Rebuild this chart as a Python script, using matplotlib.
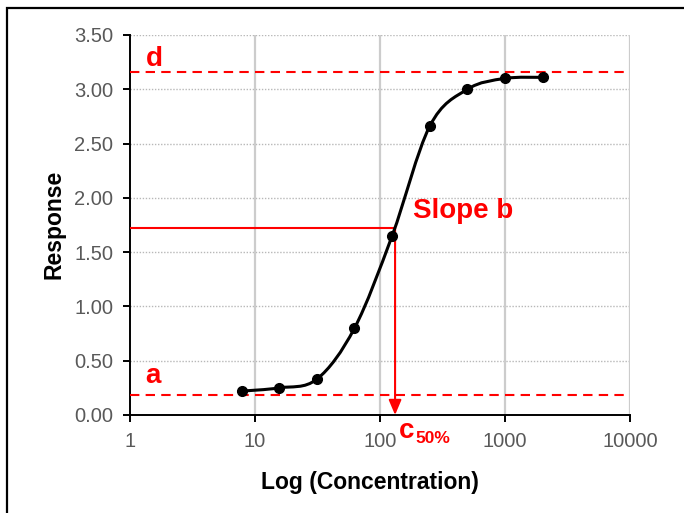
import numpy as np
import matplotlib
matplotlib.use('Agg')
import matplotlib.pyplot as plt
from matplotlib.path import Path
from matplotlib.patches import PathPatch, Rectangle

plt.rcParams['font.family'] = ['Liberation Sans', 'DejaVu Sans']

# data
conc = [7.8125, 15.625, 31.25, 62.5, 125, 250, 500, 1000, 2000]
resp = [0.22, 0.25, 0.33, 0.80, 1.65, 2.66, 3.00, 3.10, 3.11]
a_level = 0.18
d_level = 3.16
c50 = 132
c50_resp = 1.72
x_ticks = [1, 10, 100, 1000, 10000]
x_ticklabels = ['1', '10', '100', '1000', '10000']
y_ticks = [0.0, 0.5, 1.0, 1.5, 2.0, 2.5, 3.0, 3.5]

RED = '#ff0000'
GREY_TXT = '#595959'

fig = plt.figure(figsize=(6.84, 5.13), dpi=100)
ax = fig.add_axes([130/684, 98/513, 500/684, 380/513])

ax.set_xscale('log')
ax.set_xlim(1, 10000)
ax.set_ylim(0, 3.5)

# grid
for yv in y_ticks[1:]:
    ax.axhline(yv, color='#b8b8b8', lw=1.0, ls=(0, (1, 1.2)), zorder=1)
for xv in x_ticks[1:]:
    ax.axvline(xv, color='#cccccc', lw=1.6, zorder=1)

# smoothed curve (Excel style bezier through the points, in log-x space)
lx = np.log10(conc)
yy = np.array(resp)
verts = [(conc[0], resp[0])]
codes = [Path.MOVETO]
n = len(lx)
for i in range(n - 1):
    p0 = (lx[max(i - 1, 0)], yy[max(i - 1, 0)])
    p1 = (lx[i], yy[i])
    p2 = (lx[i + 1], yy[i + 1])
    p3 = (lx[min(i + 2, n - 1)], yy[min(i + 2, n - 1)])
    c1 = (p1[0] + (p2[0] - p0[0]) / 6, p1[1] + (p2[1] - p0[1]) / 6)
    c2 = (p2[0] - (p3[0] - p1[0]) / 6, p2[1] - (p3[1] - p1[1]) / 6)
    verts += [(10**c1[0], c1[1]), (10**c2[0], c2[1]), (10**p2[0], p2[1])]
    codes += [Path.CURVE4] * 3
ax.add_patch(PathPatch(Path(verts, codes), fc='none', ec='black', lw=2.2, zorder=4))
ax.plot(conc, resp, 'o', color='black', ms=7, zorder=5)

# reference lines
ax.axhline(d_level, color=RED, lw=1.5, ls=(0, (4.5, 3)), zorder=3)
ax.axhline(a_level, color=RED, lw=1.5, ls=(0, (4.5, 3)), zorder=3)
ax.plot([1, c50], [c50_resp, c50_resp], color=RED, lw=1.5, zorder=3)
ax.annotate('', xy=(c50, 0), xytext=(c50, c50_resp),
            arrowprops=dict(arrowstyle='-|>,head_length=0.9,head_width=0.38',
                            color=RED, lw=1.5, shrinkA=0, shrinkB=0), zorder=3)

ax.text(1.33, 3.215, 'd', color=RED, fontsize=20, fontweight='bold', va='baseline')
ax.text(1.33, 0.295, 'a', color=RED, fontsize=20, fontweight='bold', va='baseline')
ax.text(182, 1.814, 'Slope b', color=RED, fontsize=20, fontweight='bold', va='baseline')
ax.text(142, -0.212, 'c', color=RED, fontsize=20, fontweight='bold', va='baseline', clip_on=False)
ax.text(192, -0.258, '50%', color=RED, fontsize=12.5, fontweight='bold', va='baseline', clip_on=False)

# axes styling
for s in ['top', 'right']:
    ax.spines[s].set_visible(False)
for s in ['left', 'bottom']:
    ax.spines[s].set_linewidth(1.4)
ax.set_xticks(x_ticks)
ax.set_xticklabels(x_ticklabels)
ax.xaxis.set_minor_locator(matplotlib.ticker.NullLocator())
ax.set_yticks(y_ticks)
ax.set_yticklabels(['%.2f' % v for v in y_ticks])
ax.tick_params(direction='out', length=5, width=1.4, labelsize=14.5, labelcolor=GREY_TXT, pad=7)
fig.text(369.5/684, 1 - 483/513, 'Log (Concentration)', fontsize=16.5, fontweight='bold',
         ha='center', va='center')
fig.text(54/684, 1 - 224/513, 'Response', fontsize=16.5, fontweight='bold',
         ha='center', va='center', rotation=90)

# outer frame
fig.add_artist(Rectangle((7/684, -0.2), 1.2, 1 - 8/513 + 0.2, transform=fig.transFigure,
                         fill=False, ec='black', lw=1.6))

fig.savefig('out.png', dpi=100)
